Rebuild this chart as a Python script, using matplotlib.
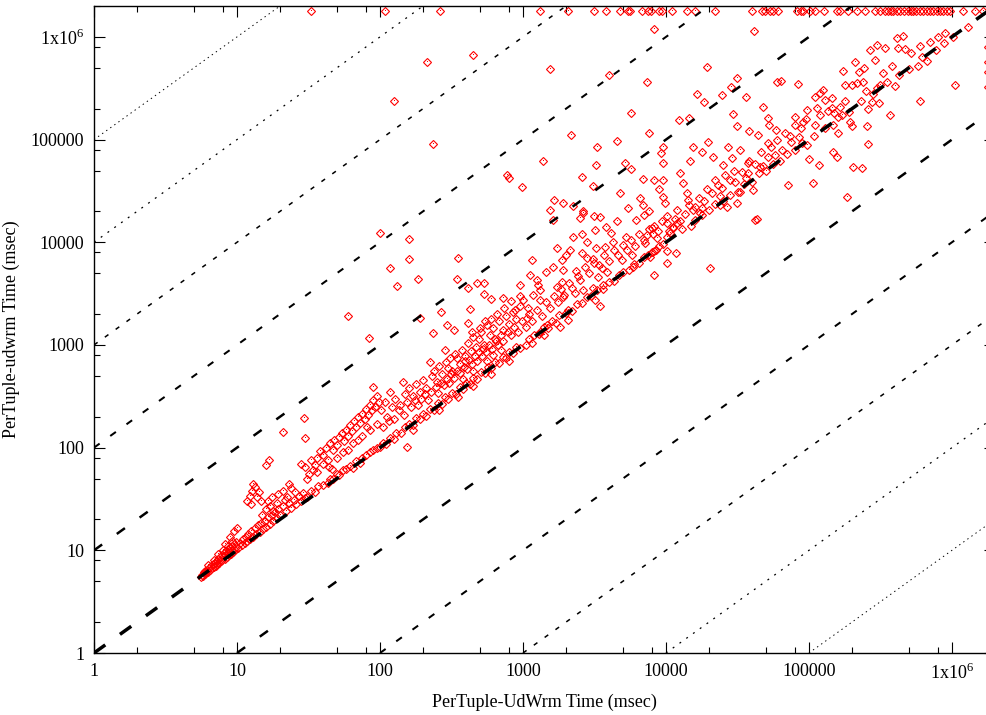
import matplotlib
matplotlib.use("Agg")
import matplotlib.pyplot as plt
import numpy as np
from matplotlib.ticker import LogLocator, FixedLocator, FixedFormatter, NullFormatter

# run times in msec, (PerTuple-UdWrm, PerTuple-udwrm)
TIMEOUT = 1.8e6

pointsBelow10 = [
    (5.6, 5.5), (5.7, 5.8), (5.8, 5.6), (5.9, 6.1), (6.0, 5.9), (6.0, 6.3), (6.1, 6.1), (6.2, 6.5),
    (6.3, 6.2), (6.4, 6.8), (6.5, 6.4), (6.6, 7.0), (6.7, 6.7), (6.8, 7.3), (6.9, 6.9), (7.0, 7.6),
    (7.1, 7.1), (7.2, 7.9), (7.3, 7.3), (7.4, 8.2), (7.5, 7.6), (7.6, 8.6), (7.7, 7.8), (7.8, 9.0),
    (7.9, 8.0), (8.0, 8.6), (8.1, 9.4), (8.2, 8.3), (8.3, 9.0), (8.4, 9.8), (8.5, 8.7), (8.6, 9.3),
    (8.7, 10.2), (8.8, 9.0), (8.9, 9.6), (9.0, 10.6), (9.1, 9.3), (9.2, 10.0), (9.3, 11.0), (9.4, 9.7),
    (9.5, 10.4), (9.6, 11.5), (9.7, 10.0), (9.8, 10.8), (9.9, 12.0), (6.3, 7.2), (6.9, 8.0), (7.4, 9.2),
    (8.0, 10.0), (8.6, 11.0), (9.2, 12.2), (9.5, 15.5), (9.0, 13.5), (8.3, 11.5), (10.0, 16.5),
]

points10to100 = [
    (10.2, 10.5), (10.5, 11.8), (10.8, 11.2), (11, 12.8), (11.3, 11.8), (11.5, 13.5), (11.8, 12.4),
    (12, 14.5), (12.3, 13), (12.6, 15.5), (13, 13.6), (13.3, 16.5), (13.6, 14.5), (14, 17.5),
    (14.4, 15.2), (14.8, 18.5), (15.2, 16), (15.6, 19.5), (16, 17), (16.5, 21), (17, 18), (17.5, 22),
    (18, 19.5), (18.5, 23.5), (19, 20.5), (19.5, 25), (20, 22), (21, 27), (22, 24), (23, 29), (24, 26),
    (25, 31), (26, 28), (27, 34), (28, 30), (29, 36), (30, 32),
    (11.8, 30), (12.3, 34), (12.8, 38), (13.3, 41), (13.8, 33), (14.3, 37), (12.5, 28), (14.8, 30),
    (13, 44), (15, 22), (16, 25), (17, 27), (18, 24), (16.5, 30), (19, 29), (17.5, 33),
    (16.8, 76), (16, 68), (19.5, 35), (21, 38), (22.5, 33), (24, 40), (23, 44), (25.5, 37), (21.5, 31),
    (28, 70), (30, 65), (32, 55), (34, 60), (31, 50), (21, 142), (29.5, 195), (30, 124),
    (31, 33), (33, 38), (35, 37), (37, 42), (40, 43), (43, 45), (45, 50), (47, 49), (50, 55), (52, 54),
    (55, 60), (58, 62), (62, 66), (65, 64), (68, 74), (72, 71), (75, 80), (80, 85), (85, 90), (90, 95),
    (95, 100), (33, 75), (35, 68), (36, 80), (38, 92), (40, 85), (42, 100), (43, 76), (45, 110),
    (47, 95), (48, 120), (50, 105), (52, 126), (54, 140), (56, 115), (58, 150), (60, 130), (62, 165),
    (64, 145), (66, 180), (68, 160), (70, 200), (72, 175), (75, 215), (78, 190), (80, 240), (82, 210),
    (85, 260), (88, 230), (90, 290), (93, 250), (96, 320), (98, 280), (40, 70), (44, 65), (50, 80),
    (55, 90), (60, 95), (65, 110), (70, 120), (75, 130), (85, 150), (95, 170), (36, 58), (46, 62),
    (60, 1900), (84, 1170), (81, 158), (89, 389),
]

points100to1000 = [
    (100, 102), (105, 112), (110, 108), (117, 125), (125, 122), (130, 140), (140, 138), (150, 160),
    (155, 102), (160, 170), (170, 168), (180, 195), (190, 188), (200, 215), (210, 205), (225, 240),
    (240, 235), (255, 275), (270, 265), (285, 310), (300, 295), (320, 340), (340, 330), (360, 390),
    (380, 375), (400, 430), (425, 415), (450, 480), (480, 470), (510, 550), (540, 530), (570, 610),
    (600, 590), (640, 690), (680, 670), (720, 770), (760, 750), (800, 860), (850, 840), (900, 960),
    (950, 940), (170, 150), (260, 230), (350, 310), (450, 400), (600, 520), (800, 700),
    (102, 230), (108, 280), (112, 200), (117, 347), (122, 250), (128, 300), (135, 230), (145, 437),
    (150, 330), (155, 280), (160, 380), (170, 320), (180, 420), (190, 350), (200, 457), (210, 380),
    (224, 680), (230, 500), (240, 560), (250, 440), (260, 620), (270, 520), (284, 890), (290, 680),
    (300, 600), (310, 750), (320, 560), (335, 820), (347, 740), (360, 650), (375, 900), (390, 780),
    (410, 1050), (430, 880), (450, 1200), (470, 960), (490, 1150), (510, 1350), (530, 1000),
    (560, 1550), (590, 1250), (620, 1450), (650, 1100), (680, 1700), (720, 1400), (760, 1900),
    (800, 1600), (850, 2100), (900, 1800), (950, 2400), (235, 1310), (295, 1550), (330, 1400),
    (414, 1620), (440, 1350), (500, 1450), (540, 1700), (600, 1800), (660, 2000), (740, 2300),
    (820, 2650), (880, 2200), (960, 3000),
    (105, 160), (115, 180), (125, 190), (138, 260), (148, 210), (165, 250), (175, 290), (185, 260),
    (195, 300), (205, 330), (215, 290), (228, 350), (245, 390), (255, 340), (265, 430), (280, 410),
    (295, 470), (305, 430), (315, 520), (330, 480), (345, 560), (365, 530), (385, 610), (395, 700),
    (405, 580), (420, 720), (440, 650), (460, 780), (475, 700), (495, 850), (515, 780), (525, 920),
    (550, 850), (575, 1000), (610, 920), (640, 1150), (670, 1000), (700, 1250), (730, 1100),
    (780, 1350), (830, 1250), (870, 1500), (920, 1350), (980, 1700), (700, 900), (560, 700),
    (450, 560), (380, 470), (620, 800),
    (100, 12300), (160, 10700), (160, 6900), (117, 5600), (185, 4400), (132, 3740), (353, 7000),
    (347, 4400), (191, 1820), (268, 2090), (427, 2240), (414, 3550), (537, 3980), (480, 3980),
    (537, 3170), (600, 2800), (724, 2880), (955, 3800), (126, 236000), (213, 565000), (447, 661000),
    (235, 91000), (776, 45000), (800, 42000), (980, 34700),
]

points1000to1e4 = [
    (1000, 2750), (1050, 1000), (1070, 1820), (1080, 2290), (1120, 4800), (1150, 6700), (1150, 1050),
    (1180, 3090), (1270, 3800), (1320, 3400), (1320, 2750), (1320, 1350), (1400, 1250), (1480, 1550),
    (1550, 20400), (1620, 16600), (1620, 5700), (1660, 25700), (1730, 3650), (1740, 8700),
    (1820, 1480), (1870, 6700), (1870, 4100), (1900, 24000), (1900, 5400), (1900, 2950), (2050, 2190),
    (2050, 1740), (2140, 8500), (2240, 11200), (2300, 3200), (2410, 4700), (2510, 17300), (2570, 7800),
    (2570, 43600), (2630, 19100), (2630, 3400), (2800, 10000), (2800, 7000), (3090, 3550), (3160, 6300),
    (3170, 13200), (3170, 2750), (3240, 8700), (3240, 56000), (3300, 85000), (3330, 4600),
    (3460, 17800), (3460, 2400), (3550, 5600), (3630, 3800), (3720, 8900), (3900, 5100), (4100, 12300),
    (4270, 10000), (4550, 16200), (4550, 97000), (4900, 6700), (5150, 59000), (5250, 11200),
    (5400, 21400), (5700, 182000), (5800, 7600), (5900, 5700), (6900, 23000), (7050, 18600),
    (7100, 9800), (7700, 7200), (7400, 11700), (7400, 363000), (7950, 13800), (8100, 12000),
    (8300, 8300), (8300, 4800), (8700, 11000), (7600, 115000), (4000, 426000), (1550, 490000),
    (1380, 62000), (8300, 1.2e6), (2180, 110000),
    (1100, 1150), (1200, 1250), (1300, 1280), (1400, 1500), (1500, 1450), (1600, 1700), (1700, 1650),
    (1800, 1950), (2000, 2050), (2200, 2150), (2400, 2500), (2600, 2550), (2800, 2900), (3000, 3000),
    (3300, 3400), (3600, 3500), (4000, 4100), (4300, 4200), (4700, 4800), (5000, 5100), (5500, 5400),
    (6000, 6200), (6500, 6300), (7000, 7200), (7500, 7600), (8000, 8100), (8500, 8400), (9000, 9300),
    (9500, 9600), (2240, 22500), (2630, 20000), (3160, 18000), (7550, 20000), (3100, 35000),
    (5700, 52000), (6900, 41000), (8300, 40000), (8900, 33000),
    (1050, 1500), (1100, 2000), (1150, 1700), (1250, 2200), (1350, 1900), (1450, 2600), (1550, 2300),
    (1650, 3000), (1750, 2600), (1850, 3500), (1950, 3100), (2100, 4000), (2200, 3600), (2350, 5200),
    (2500, 4300), (2700, 5800), (2900, 5000), (3100, 6800), (3400, 6000), (3700, 7500), (4000, 6600),
    (4300, 8500), (4600, 7600), (5000, 9500), (5300, 8500), (5700, 10500), (6100, 9200),
    (6500, 12000), (7000, 10500), (7600, 13500), (8200, 14500), (8800, 13000), (9400, 16000),
    (1250, 4300), (1450, 5100), (2000, 7600), (2600, 12000), (3800, 14000), (6200, 16500),
    (6600, 27000), (4800, 30000),
]

points1e4to1e5 = [
    (9500, 85000), (9300, 74000), (9500, 59000), (9500, 40500), (9500, 27500), (9800, 24000),
    (12500, 47000), (13100, 38000), (14000, 30000), (15500, 85000), (17800, 76000), (14700, 62000),
    (21400, 67000), (25000, 56000), (19600, 95000), (33000, 79000), (29000, 66000), (37400, 59000),
    (22000, 40500), (30500, 38600), (33000, 31000), (37400, 47000), (40600, 32000), (45300, 53700),
    (51500, 93000), (51500, 67000), (57500, 71000), (26700, 22000), (31600, 24000), (18000, 21500),
    (17300, 19200), (16000, 16500), (11200, 14000), (10200, 15500), (14200, 25700), (12000, 20500),
    (10700, 12300), (10200, 11200), (11200, 13800), (12000, 15500), (15500, 20400), (10200, 8300),
    (11700, 7800), (10200, 6300), (20300, 5600), (23800, 23000), (41900, 16600), (10200, 18200),
    (19300, 510000), (16500, 277000), (18500, 233000), (12300, 155000), (14500, 162000),
    (31500, 398000), (28300, 324000), (24600, 270000), (36300, 259000), (60000, 363000),
    (63600, 372000), (83600, 347000), (47600, 208000), (29400, 177000), (31500, 135000),
    (51600, 162000), (52600, 138000), (58700, 124000), (79800, 166000), (79800, 138000),
    (91000, 148000), (97000, 195000), (41500, 1.14e6), (43300, 16800), (71000, 36000),
    (13000, 13500), (15000, 14500), (18000, 18500), (20000, 20500), (22000, 23500), (25000, 25000),
    (28000, 29000), (32000, 31000), (35000, 37000), (40000, 39000), (45000, 47000), (50000, 50000),
    (56000, 58000), (63000, 62000), (70000, 73000), (80000, 79000), (90000, 93000), (24000, 28000),
    (36000, 42000), (48000, 55000), (65000, 80000), (75000, 95000), (85000, 105000),
    (10500, 13000), (11500, 17000), (12500, 16000), (13500, 19000), (14500, 23000), (16000, 22000),
    (17000, 27000), (18500, 25000), (19500, 33000), (21000, 30000), (23000, 36000), (24500, 34000),
    (26000, 45000), (28000, 40000), (30000, 50000), (34000, 48000), (38000, 62000), (42000, 58000),
    (46000, 75000), (54000, 84000), (60000, 100000), (68000, 115000), (74000, 108000),
    (88000, 130000), (95000, 160000), (44000, 110000), (27000, 85000), (38000, 120000),
]

points1e5up = [
    (114000, 204000), (110000, 259000), (120000, 283000), (126000, 302000), (129000, 241000),
    (145000, 253000), (120000, 174000), (147000, 138000), (165000, 208000), (170000, 174000),
    (108000, 108000), (97000, 88000), (100000, 64000), (117000, 57000), (107000, 38000),
    (184000, 27500), (147000, 76000), (157000, 67000), (204000, 54000), (234000, 52800),
    (200000, 135000), (256000, 135000), (259000, 91000), (275000, 233000), (309000, 227000),
    (369000, 174000), (600000, 240000), (1.05e6, 339000), (300000, 316000), (426000, 426000),
    (577000, 522000), (673000, 577000), (774000, 740000), (795000, 1.0e6), (1.02e6, 1.0e6),
    (1.29e6, 1.25e6), (268000, 740000), (300000, 830000), (339000, 776000), (290000, 590000),
    (174000, 468000), (224000, 458000), (241000, 500000), (210000, 565000), (415000, 980000),
    (455000, 1.02e6), (420000, 776000), (468000, 759000), (200000, 339000), (218000, 355000),
    (178000, 339000), (316000, 339000), (145000, 204000), (195000, 148000),
    (130000, 130000), (160000, 165000), (190000, 185000), (230000, 240000), (280000, 275000),
    (350000, 360000), (500000, 490000), (620000, 640000), (880000, 870000), (150000, 180000),
    (250000, 300000), (110000, 140000), (135000, 190000), (180000, 240000), (240000, 360000),
    (330000, 450000), (380000, 520000), (520000, 700000), (600000, 820000), (700000, 900000),
    (900000, 1.1e6), (160000, 115000), (260000, 200000), (400000, 330000),
]

# udwrm runs that hit the timeout
timeoutX = [
    33, 108, 263, 1320, 2050, 3150, 3800, 4770, 5400, 5600, 6800, 7500, 7900, 8900, 9400, 11000,
    14000, 16000, 22000, 40000, 47000, 49000, 53000, 56000, 61000, 83000, 88000, 91000, 102000,
    110000, 128000, 158000, 165000, 186000, 218000, 245000, 290000, 316000, 340000, 355000, 375000,
    390000, 415000, 436000, 460000, 490000, 513000, 537000, 560000, 600000, 630000, 670000, 700000,
    740000, 780000, 830000, 870000, 930000, 970000, 1.2e6, 1.45e6, 1.65e6,
]
# UdWrm runs that hit the timeout
timeoutY = [790000, 565000, 455000, 323000]

tickValues = [1, 10, 100, 1000, 10000, 100000, 1000000]
tickLabels = ["1", "10", "100", "1000", "10000", "100000", r"1x10$^{\mathrm{6}}$"]

# factor, linewidth, dash pattern
refLines = [
    (1e5, 0.7, (1.0, 2.6)), (1e4, 0.9, (1.4, 4.6)), (1e3, 1.1, (3.2, 6.4)), (1e2, 1.45, (5.0, 9.4)),
    (1e1, 1.8, (7.2, 13.0)), (1.0, 2.5, (10.0, 13.0)), (1e-1, 1.8, (7.2, 13.0)),
    (1e-2, 1.45, (5.0, 9.4)), (1e-3, 1.1, (3.2, 6.4)), (1e-4, 0.9, (1.4, 4.6)), (1e-5, 0.7, (1.0, 2.6)),
]


def collectPoints():
    pairs = pointsBelow10 + points10to100 + points100to1000 + points1e4to1e5 + points1000to1e4 + points1e5up
    xs = [p[0] for p in pairs] + timeoutX + [TIMEOUT] * len(timeoutY)
    ys = [p[1] for p in pairs] + [TIMEOUT] * len(timeoutX) + timeoutY
    return np.array(xs), np.array(ys)


def plot():
    plt.rcParams['font.family'] = ['Liberation Serif', 'DejaVu Serif']
    plt.rcParams['mathtext.fontset'] = 'custom'
    plt.rcParams['mathtext.rm'] = 'Liberation Serif'
    plt.rcParams['lines.scale_dashes'] = False

    fig = plt.figure(figsize=(9.87, 7.15), dpi=100)
    ax = fig.add_axes([94 / 987, 62 / 715, 901 / 987, 647 / 715])

    xs, ys = collectPoints()
    ax.plot(xs, ys, 'D', markerfacecolor='none', markeredgecolor='red', ms=4.5, mew=0.8, zorder=2)
    ax.plot(xs, ys, ',', color='red', zorder=2)

    for factor, lw, dashes in refLines:
        # each line starts where it enters the plot (left or bottom edge)
        lineX = np.array([max(1.0, 1.0 / factor), 1e7])
        ax.plot(lineX, lineX * factor, color='black', lw=lw, dashes=dashes, zorder=3)

    ax.set_xscale('log')
    ax.set_yscale('log')
    ax.set_xlim(1, 2e6)
    ax.set_ylim(1, 2e6)

    for axis in (ax.xaxis, ax.yaxis):
        axis.set_major_locator(FixedLocator(tickValues))
        axis.set_major_formatter(FixedFormatter(tickLabels))
        axis.set_minor_locator(LogLocator(base=10, subs=[2, 5, 8]))
        axis.set_minor_formatter(NullFormatter())

    ax.tick_params(which='both', direction='in', top=True, right=True, labelsize=13, width=0.8,
                   color='black')
    ax.tick_params(which='major', length=8, pad=7)
    ax.tick_params(which='minor', length=4)
    for spine in ax.spines.values():
        spine.set_linewidth(1.0)

    ax.set_xlabel("PerTuple-UdWrm Time (msec)", fontsize=13, labelpad=8)
    ax.set_ylabel("PerTuple-udwrm Time (msec)", fontsize=13, labelpad=8)

    fig.savefig("out.png", dpi=100)


if __name__ == '__main__':
    plot()
